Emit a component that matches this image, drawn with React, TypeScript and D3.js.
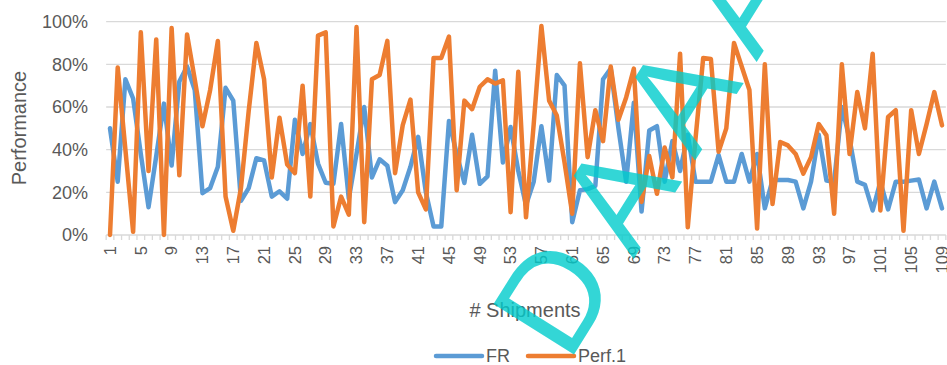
import React from "react";
import * as d3 from "d3";

// Shipment index 1..109
const shipments: number[] = Array.from({ length: 109 }, (_, i) => i + 1);

// Fill rate (%) per shipment
const frValues: number[] = [
  50, 25, 73, 64, 38, 13, 37, 61.6, 32.6, 72,
  79, 68, 19.6, 22, 32, 69, 63, 16, 22, 36,
  35, 18, 20.5, 17, 54, 38, 52, 33.5, 24.5, 24,
  52, 17, 38, 60, 27, 35.5, 32.5, 15.4, 21, 32,
  46, 20, 4, 4, 53.5, 38, 24.4, 47, 24, 27.5,
  77, 34, 50.6, 30, 14, 25, 51, 25.5, 75, 70,
  6, 21, 21.5, 23, 73, 78, 50, 25, 62, 11,
  49, 51, 25, 44, 30, 47, 25, 25, 25, 37.5,
  25, 25, 38, 25, 38, 12.5, 25.8, 25.8, 25.8, 25,
  12.5, 25, 47, 25.5, 25, 60, 45, 25, 23.5, 11.5,
  25, 12, 25, 25, 25.5, 26, 12.5, 25, 12.5,
];

// Perf.1 (%) per shipment
const perfValues: number[] = [
  0, 78.5, 40, 1.5, 95, 30, 91.7, 0, 97, 28,
  94, 73, 51, 68, 91, 18, 2, 22, 58, 90,
  73, 27, 55, 33, 29, 70, 18, 93.5, 95, 4,
  18, 9.5, 97.5, 6, 73, 75, 91, 29, 51.5, 63.5,
  20, 12, 83, 83, 93, 21, 63, 59, 69.5, 73,
  71, 72.5, 10.7, 76.5, 8.3, 52, 98, 63, 56, 34,
  10, 80.5, 36.5, 58.5, 44, 79, 54, 64.5, 78, 15.5,
  37, 19.3, 41, 27, 85, 3.6, 45, 83, 82.5, 39,
  50, 90, 79, 68, 3, 80, 14.5, 43.6, 42, 38,
  28.8, 36.5, 52, 46.7, 10, 80, 38, 67, 50, 85,
  11.5, 55.3, 58.5, 2, 58.5, 38, 52, 67, 51.4,
];

const yTicks: number[] = [0, 20, 40, 60, 80, 100];
const xLabelEvery = 4;

const seriesNames = ["FR", "Perf.1"];
const seriesColors = ["#5B9BD5", "#ED7D31"];

const W = 947;
const H = 365;
const plotLeft = 106.15;
const plotRight = 945.85;
const plotTop = 21.7;
const plotBottom = 235;

const FONT = "'Liberation Sans', Arial, sans-serif";
const TEXT = "#595959";
const GRID = "#D9D9D9";

export default function App() {
  const x = d3
    .scalePoint<number>()
    .domain(shipments)
    .range([plotLeft, plotRight])
    .padding(0.5);
  const step = x.step();
  const y = d3.scaleLinear().domain([0, 100]).range([plotBottom, plotTop]);

  const line = d3
    .line<number>()
    .x((_, i) => x(shipments[i]) as number)
    .y((d) => y(d));

  const series = [frValues, perfValues];

  // category boundary tick positions
  const boundaries = d3.range(shipments.length + 1).map((k) => plotLeft + k * step);

  return (
    <svg
      width={W}
      height={H}
      style={{ position: "absolute", left: 0, top: 0, background: "#fff" }}
      fontFamily={FONT}
    >
      {/* horizontal gridlines */}
      {yTicks.map((t) => (
        <line
          key={"g" + t}
          x1={plotLeft}
          x2={plotRight}
          y1={y(t)}
          y2={y(t)}
          stroke={GRID}
          strokeWidth={1.3}
        />
      ))}
      {/* category ticks */}
      {boundaries.map((bx, k) => (
        <line
          key={"t" + k}
          x1={bx}
          x2={bx}
          y1={plotBottom}
          y2={plotBottom + 5}
          stroke={GRID}
          strokeWidth={1.3}
        />
      ))}
      {/* y tick labels */}
      {yTicks.map((t) => (
        <text
          key={"yl" + t}
          x={88}
          y={y(t)}
          dy="0.35em"
          textAnchor="end"
          fontSize={18}
          fill={TEXT}
        >
          {t}%
        </text>
      ))}
      {/* x tick labels */}
      {shipments
        .filter((s) => (s - 1) % xLabelEvery === 0)
        .map((s) => (
          <text
            key={"xl" + s}
            transform={`translate(${x(s)},${plotBottom + 11}) rotate(-90)`}
            dy="0.35em"
            textAnchor="end"
            fontSize={16.5}
            fill={TEXT}
          >
            {s}
          </text>
        ))}
      {/* axis titles */}
      <text
        transform={`translate(26,128) rotate(-90)`}
        textAnchor="middle"
        fontSize={20}
        fill={TEXT}
      >
        Performance
      </text>
      <text x={525} y={317} textAnchor="middle" fontSize={20} fill={TEXT}>
        # Shipments
      </text>
      {/* series lines */}
      {series.map((vals, si) => (
        <path
          key={"s" + si}
          d={line(vals) as string}
          fill="none"
          stroke={seriesColors[si]}
          strokeWidth={4.5}
          strokeLinejoin="round"
          strokeLinecap="round"
        />
      ))}
      {/* legend */}
      {seriesNames.map((name, si) => {
        const lx = si === 0 ? 436 : 528;
        return (
          <g key={"lg" + si}>
            <line
              x1={lx}
              x2={lx + 46}
              y1={356}
              y2={356}
              stroke={seriesColors[si]}
              strokeWidth={4.5}
              strokeLinecap="round"
            />
            <text x={lx + 50} y={356} dy="0.35em" fontSize={18} fill={TEXT}>
              {name}
            </text>
          </g>
        );
      })}
      {/* watermark */}
      <text
        transform="translate(568,364) rotate(-58)"
        fontSize={138}
        fill="rgb(0,204,204)"
        fillOpacity={0.8}
        letterSpacing={24}
        fontFamily="'Liberation Sans', sans-serif"
      >
        DAAAM
      </text>
    </svg>
  );
}
